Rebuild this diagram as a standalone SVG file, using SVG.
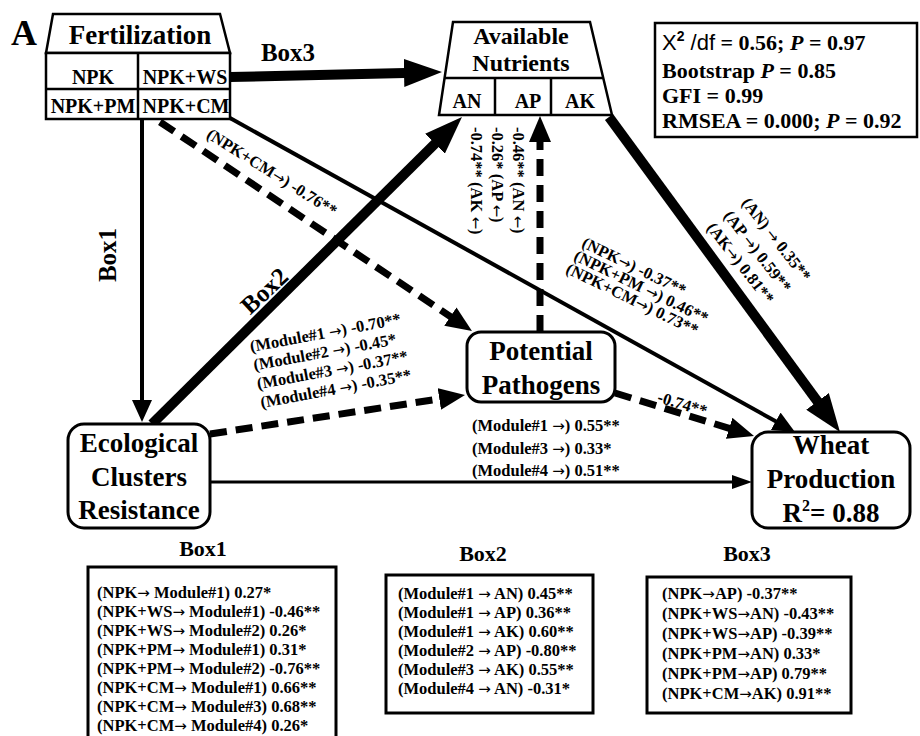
<svg xmlns="http://www.w3.org/2000/svg" width="920" height="736" viewBox="0 0 920 736">
<style>
text{font-family:"Liberation Serif","Times New Roman",serif;font-weight:bold;fill:#000}
.big{font-size:27px}
.nut{font-size:24px}
.cell{font-size:20px}
.lab{font-size:16.5px}
.bx{font-size:22px}
.bxl{font-size:25px}
.stat{font-size:22px}
.sans{font-family:"Liberation Sans",Arial,sans-serif;font-weight:normal}
.ar{font-family:"DejaVu Sans",sans-serif;font-weight:normal;font-size:15px}
.box{fill:#fff;stroke:#000;stroke-width:3}
.tbl{fill:#fff;stroke:#000;stroke-width:2.5}
.c{text-anchor:middle}
.ln{fill:none;stroke:#000}
.thick{stroke-width:10}
.mid{stroke-width:4}
.thin{stroke-width:3}
.dash{stroke-width:7;stroke-dasharray:17 9}
</style>
<defs>
<marker id="ahBig" markerUnits="userSpaceOnUse" markerWidth="38" markerHeight="28" refX="1" refY="14" orient="auto"><path d="M0,0 L38,14 L0,28 z"/></marker>
<marker id="ahMid" markerUnits="userSpaceOnUse" markerWidth="22" markerHeight="20" refX="1" refY="10" orient="auto"><path d="M0,0 L22,10 L0,20 z"/></marker>
<marker id="ahDash" markerUnits="userSpaceOnUse" markerWidth="26" markerHeight="22" refX="1" refY="11" orient="auto"><path d="M0,0 L26,11 L0,22 z"/></marker>
<marker id="ahThin" markerUnits="userSpaceOnUse" markerWidth="20" markerHeight="14" refX="1" refY="7" orient="auto"><path d="M0,0 L20,7 L0,14 z"/></marker>
</defs>
<rect width="920" height="736" fill="#fff"/>

<g id="connectors">
<line class="ln thick" x1="230" y1="77" x2="405" y2="72.9" marker-end="url(#ahBig)"/>
<line class="ln thick" x1="152" y1="424" x2="435.7" y2="143" marker-end="url(#ahBig)"/>
<line class="ln thick" x1="609" y1="117" x2="818.1" y2="402.2" marker-end="url(#ahBig)"/>
<line class="ln mid" x1="142" y1="120" x2="142" y2="401" marker-end="url(#ahMid)"/>
<line class="ln mid" x1="230" y1="118" x2="776.6" y2="421.8" marker-end="url(#ahMid)"/>
<line class="ln dash" x1="160" y1="122" x2="451.2" y2="317.1" marker-end="url(#ahDash)"/>
<line class="ln dash" x1="540" y1="332" x2="540" y2="141" marker-end="url(#ahDash)"/>
<line class="ln dash" x1="210" y1="434" x2="440.3" y2="398.8" marker-end="url(#ahDash)"/>
<line class="ln dash" x1="615" y1="393" x2="730.1" y2="428.6" marker-end="url(#ahDash)"/>
<line class="ln thin" x1="210" y1="482" x2="733" y2="482" marker-end="url(#ahThin)"/>
</g>

<g id="edge-labels">
<text class="bxl" x="288" y="61" text-anchor="middle">Box3</text>
<text class="bxl" transform="translate(116,255) rotate(-90)" text-anchor="middle">Box1</text>
<text class="bxl" transform="translate(270,297) rotate(-43)" text-anchor="middle">Box2</text>
<text class="lab" transform="translate(205.4,137.2) rotate(32)">(NPK+CM<tspan class="ar">→</tspan>) -0.76**</text>
<text class="lab" transform="translate(513,127) rotate(90)">-0.46** (AN <tspan class="ar">←</tspan>)</text>
<text class="lab" transform="translate(492,127) rotate(90)">-0.26* (AP <tspan class="ar">←</tspan>)</text>
<text class="lab" transform="translate(471,127) rotate(90)">-0.74** (AK <tspan class="ar">←</tspan>)</text>
<text class="lab" transform="translate(580.8,246.5) rotate(26)">(NPK<tspan class="ar">→</tspan>) -0.37**</text>
<text class="lab" transform="translate(572.8,259.5) rotate(26)">(NPK+PM <tspan class="ar">→</tspan>) 0.46**</text>
<text class="lab" transform="translate(564.8,272.5) rotate(26)">(NPK+CM<tspan class="ar">→</tspan>) 0.73**</text>
<text class="lab" transform="translate(741,203) rotate(52)">(AN) <tspan class="ar">→</tspan> 0.35**</text>
<text class="lab" transform="translate(723,216) rotate(52)">(AP <tspan class="ar">→</tspan>) 0.59**</text>
<text class="lab" transform="translate(706,228) rotate(52)">(AK<tspan class="ar">→</tspan>) 0.81**</text>
<text class="lab" transform="translate(251,352) rotate(-10.5)">(Module#1 <tspan class="ar">→</tspan>) -0.70**</text>
<text class="lab" transform="translate(254.5,370.6) rotate(-10.5)">(Module#2 <tspan class="ar">→</tspan>) -0.45*</text>
<text class="lab" transform="translate(258,389.3) rotate(-10.5)">(Module#3 <tspan class="ar">→</tspan>) -0.37**</text>
<text class="lab" transform="translate(261.5,408) rotate(-10.5)">(Module#4 <tspan class="ar">→</tspan>) -0.35**</text>
<text class="lab" transform="translate(656.5,401.8) rotate(17)">-0.74**</text>
<text class="lab" x="472" y="431">(Module#1 <tspan class="ar">→</tspan>) 0.55**</text>
<text class="lab" x="472" y="454">(Module#3 <tspan class="ar">→</tspan>) 0.33*</text>
<text class="lab" x="472" y="476">(Module#4 <tspan class="ar">→</tspan>) 0.51**</text>
</g>

<g id="panel-label"><text x="11" y="45" style="font-size:36px">A</text></g>

<g id="fertilization">
<polygon class="tbl" points="53,14 220,14 230,53 46,53"/>
<text class="big c" x="140" y="44">Fertilization</text>
<rect class="tbl" x="46" y="53" width="184" height="66"/>
<line class="ln" stroke-width="2.5" x1="138" y1="53" x2="138" y2="119"/>
<line class="ln" stroke-width="2.5" x1="46" y1="89" x2="230" y2="89"/>
<text class="cell c" x="93" y="84">NPK</text>
<text class="cell c" x="185" y="84">NPK+WS</text>
<text class="cell c" x="93" y="113">NPK+PM</text>
<text class="cell c" x="186" y="113">NPK+CM</text>
</g>

<g id="available-nutrients">
<polygon class="tbl" points="453,22 590,22 612,115 439,115"/>
<line class="ln" stroke-width="2.5" x1="444.6" y1="78" x2="603.2" y2="78"/>
<line class="ln" stroke-width="2.5" x1="495" y1="78" x2="495" y2="115"/>
<line class="ln" stroke-width="2.5" x1="551" y1="78" x2="551" y2="115"/>
<text class="nut c" x="521" y="44">Available</text>
<text class="nut c" x="521" y="71">Nutrients</text>
<text class="cell c" x="467" y="108">AN</text>
<text class="cell c" x="528" y="108">AP</text>
<text class="cell c" x="580" y="108">AK</text>
</g>

<g id="fit-stats">
<rect x="655" y="23" width="262" height="114" fill="#fff" stroke="#000" stroke-width="2.5"/>
<text class="stat" x="662" y="50"><tspan class="sans">X</tspan><tspan class="sans" style="font-weight:bold;font-size:14px" dy="-9">2</tspan><tspan class="sans" dy="9"> /df</tspan> = 0.56; <tspan font-style="italic">P</tspan> = 0.97</text>
<text class="stat" x="662" y="78">Bootstrap <tspan font-style="italic">P</tspan> = 0.85</text>
<text class="stat" x="662" y="103">GFI = 0.99</text>
<text class="stat" x="662" y="128">RMSEA = 0.000; <tspan font-style="italic">P</tspan> = 0.92</text>
</g>

<g id="ecological-clusters">
<rect class="box" x="68" y="424" width="142" height="104" rx="16"/>
<text class="big c" x="139" y="452">Ecological</text>
<text class="big c" x="139" y="486">Clusters</text>
<text class="big c" x="139" y="519">Resistance</text>
</g>

<g id="potential-pathogens">
<rect class="box" x="467" y="332" width="148" height="70" rx="14"/>
<text class="big c" x="541" y="360">Potential</text>
<text class="big c" x="541" y="394">Pathogens</text>
</g>

<g id="wheat-production">
<rect class="box" x="752" y="432" width="158" height="96" rx="16"/>
<text class="big c" x="831" y="454">Wheat</text>
<text class="big c" x="831" y="488">Production</text>
<text class="big c" x="831" y="522">R<tspan style="font-size:16px" dy="-11">2</tspan><tspan dy="11">= 0.88</tspan></text>
</g>

<g id="box1-table">
<text class="bx c" x="203" y="556">Box1</text>
<rect x="88" y="567" width="248" height="175" fill="#fff" stroke="#000" stroke-width="3"/>
<text class="lab" x="97" y="598">(NPK<tspan class="ar">→</tspan> Module#1) 0.27*</text>
<text class="lab" x="97" y="617">(NPK+WS<tspan class="ar">→</tspan> Module#1) -0.46**</text>
<text class="lab" x="97" y="636">(NPK+WS<tspan class="ar">→</tspan> Module#2) 0.26*</text>
<text class="lab" x="97" y="655">(NPK+PM<tspan class="ar">→</tspan> Module#1) 0.31*</text>
<text class="lab" x="97" y="674">(NPK+PM<tspan class="ar">→</tspan> Module#2) -0.76**</text>
<text class="lab" x="97" y="693">(NPK+CM<tspan class="ar">→</tspan> Module#1) 0.66**</text>
<text class="lab" x="97" y="712">(NPK+CM<tspan class="ar">→</tspan> Module#3) 0.68**</text>
<text class="lab" x="97" y="731">(NPK+CM<tspan class="ar">→</tspan> Module#4) 0.26*</text>
</g>

<g id="box2-table">
<text class="bx c" x="483" y="561">Box2</text>
<rect x="386" y="575" width="207" height="138" fill="#fff" stroke="#000" stroke-width="3"/>
<text class="lab" x="398" y="599">(Module#1 <tspan class="ar">→</tspan> AN) 0.45**</text>
<text class="lab" x="398" y="618">(Module#1 <tspan class="ar">→</tspan> AP) 0.36**</text>
<text class="lab" x="398" y="637">(Module#1 <tspan class="ar">→</tspan> AK) 0.60**</text>
<text class="lab" x="398" y="656">(Module#2 <tspan class="ar">→</tspan> AP) -0.80**</text>
<text class="lab" x="398" y="675">(Module#3 <tspan class="ar">→</tspan> AK) 0.55**</text>
<text class="lab" x="398" y="694">(Module#4 <tspan class="ar">→</tspan> AN) -0.31*</text>
</g>

<g id="box3-table">
<text class="bx c" x="747" y="561">Box3</text>
<rect x="647" y="577" width="204" height="136" fill="#fff" stroke="#000" stroke-width="3"/>
<text class="lab" x="662" y="599">(NPK<tspan class="ar">→</tspan>AP) -0.37**</text>
<text class="lab" x="662" y="619">(NPK+WS<tspan class="ar">→</tspan>AN) -0.43**</text>
<text class="lab" x="662" y="639">(NPK+WS<tspan class="ar">→</tspan>AP) -0.39**</text>
<text class="lab" x="662" y="659">(NPK+PM<tspan class="ar">→</tspan>AN) 0.33*</text>
<text class="lab" x="662" y="679">(NPK+PM<tspan class="ar">→</tspan>AP) 0.79**</text>
<text class="lab" x="662" y="699">(NPK+CM<tspan class="ar">→</tspan>AK) 0.91**</text>
</g>
</svg>
